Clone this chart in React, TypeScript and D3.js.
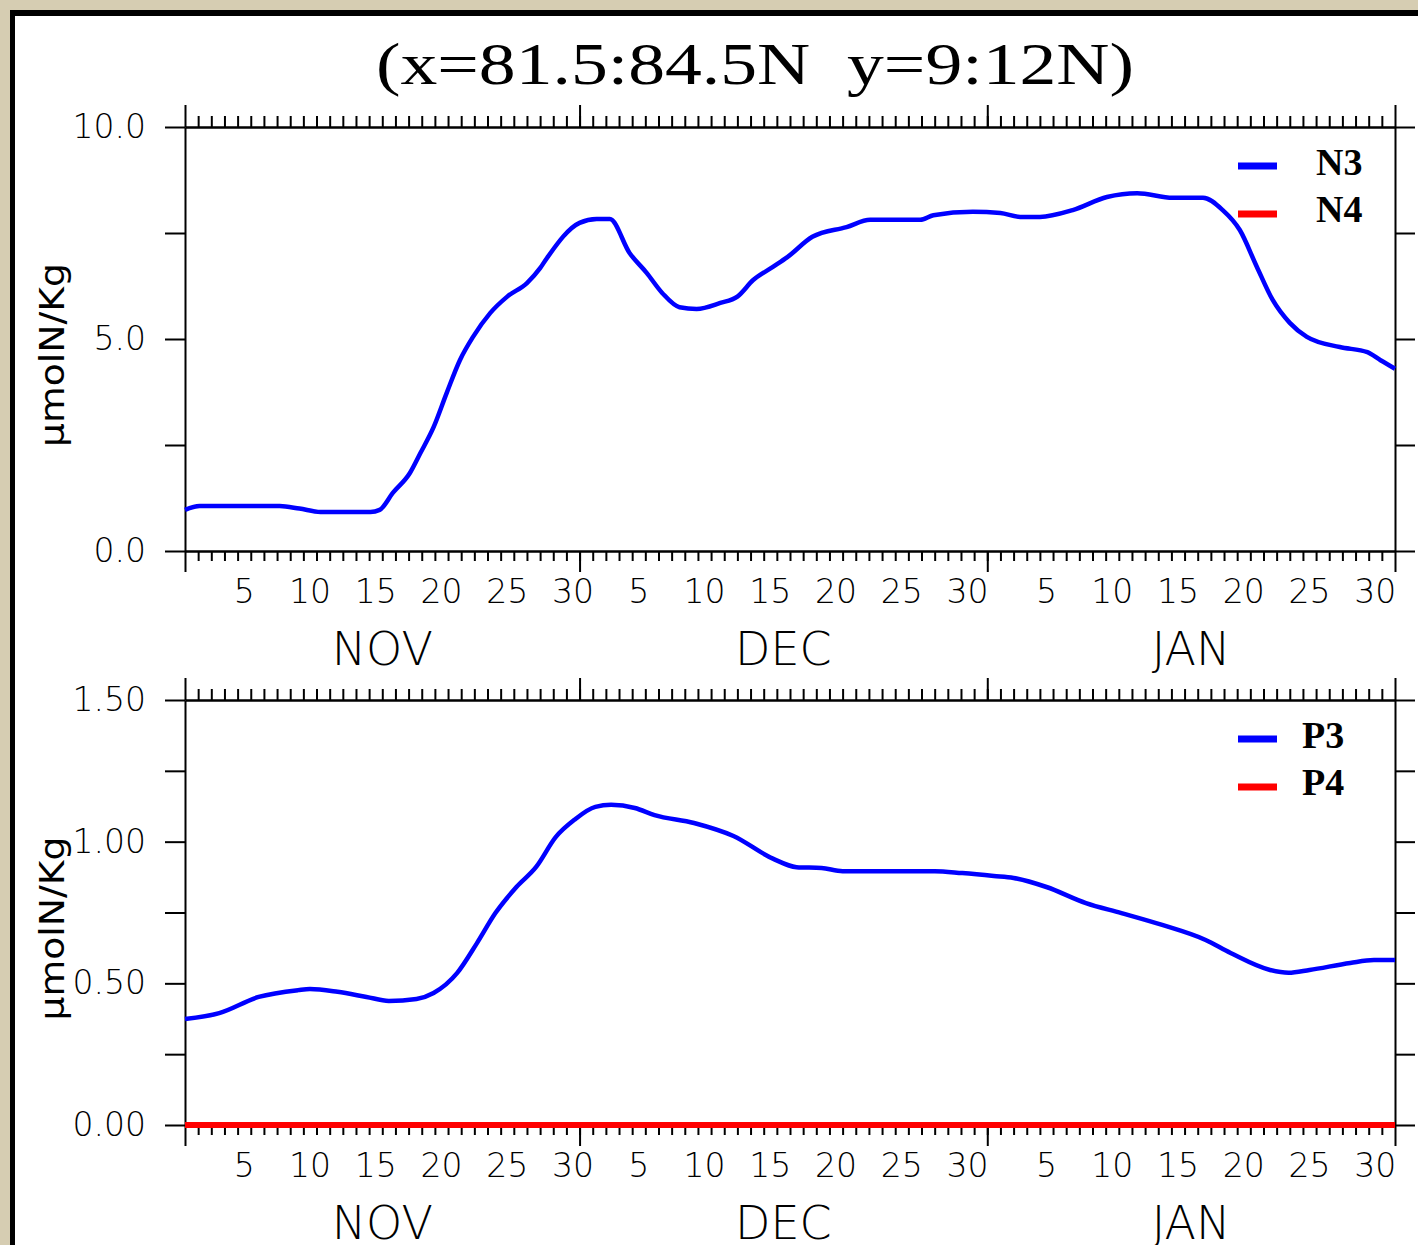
import { useRef, useEffect } from 'react'
import * as d3 from 'd3'

const title = '(x=81.5:84.5N  y=9:12N)'
const yLabel = 'μmolN/Kg'
const monthNames = ['NOV', 'DEC', 'JAN']
const dayLabels = [5, 10, 15, 20, 25, 30]

// time axis: 1 Nov -> 1 Feb, values are days after 1 Nov 00:00
const n3Days = [0, 1.1, 4.2, 7.2, 8.7, 10.3, 14.1, 14.8, 15.8, 17.1, 17.9, 18.9, 19.9, 20.9, 21.9, 23.2, 24.5, 26.0, 27.0, 27.5, 30.0, 31.3, 32.3, 33.8, 35.1, 36.3, 37.6, 38.9, 40.7, 42.0, 43.2, 44.7, 45.8, 47.7, 50.3, 52.1, 55.9, 56.9, 59.9, 62.0, 63.5, 65.0, 67.5, 70.1, 72.4, 75.1, 77.4, 78.9, 80.2, 81.5, 82.7, 84.0, 85.3, 87.8, 89.9, 90.9, 92]
const n3Values = [0.97, 1.06, 1.06, 1.06, 1.0, 0.92, 0.92, 0.97, 1.37, 1.84, 2.31, 2.92, 3.73, 4.5, 5.05, 5.61, 6.0, 6.32, 6.67, 6.9, 7.74, 7.83, 7.83, 7.03, 6.56, 6.08, 5.75, 5.71, 5.85, 6.0, 6.39, 6.7, 6.93, 7.41, 7.64, 7.81, 7.81, 7.92, 8.0, 7.97, 7.88, 7.88, 8.04, 8.35, 8.44, 8.33, 8.33, 8.04, 7.57, 6.7, 5.92, 5.38, 5.05, 4.81, 4.69, 4.5, 4.3]

const p3Days = [0, 2.6, 5.6, 8.6, 9.5, 11.6, 13.8, 15.5, 17.6, 18.9, 20.7, 22.2, 23.6, 25.2, 26.7, 28.2, 29.6, 31.2, 32.4, 34.2, 35.7, 38.7, 41.7, 44.7, 46.5, 48.4, 50.0, 57.0, 59.1, 61.5, 63.0, 65.5, 68.5, 71.2, 74.3, 77.6, 79.5, 82.5, 83.9, 85.5, 88.6, 90.4, 92]
const p3Values = [0.374, 0.395, 0.452, 0.476, 0.48, 0.47, 0.452, 0.438, 0.445, 0.466, 0.537, 0.642, 0.748, 0.84, 0.911, 1.017, 1.077, 1.123, 1.13, 1.119, 1.094, 1.066, 1.02, 0.94, 0.91, 0.907, 0.896, 0.896, 0.889, 0.879, 0.872, 0.84, 0.783, 0.748, 0.706, 0.653, 0.607, 0.547, 0.537, 0.547, 0.572, 0.582, 0.582]

const p4Days = [0, 92]
const p4Values = [0, 0]

const topTicks = [0, 2.5, 5, 7.5, 10]
const topLabels = [0, 5, 10]
const bottomTicks = [0, 0.25, 0.5, 0.75, 1, 1.25, 1.5]
const bottomLabels = [0, 0.5, 1, 1.5]

const W = 1418
const H = 1245
const sans = 'DejaVu Sans'
const serif = 'Liberation Serif'
const thin = 300

const start = Date.UTC(2000, 10, 1)
const end = Date.UTC(2001, 1, 1)
const toDate = (d: number) => new Date(start + d * 864e5)

function App() {
  const chartRef = useRef<HTMLDivElement>(null)

  function renderChart(container: HTMLDivElement | null) {
    if (container === null) return
    container.innerHTML = ''

    const svg = d3.select(container).append('svg')
      .attr('width', W)
      .attr('height', H)
      .style('display', 'block')

    // frame
    svg.append('rect').attr('width', W).attr('height', H).attr('fill', '#d6cdb2')
    svg.append('rect').attr('x', 10).attr('y', 10).attr('width', W).attr('height', H).attr('fill', '#000')
    svg.append('rect').attr('x', 15).attr('y', 16).attr('width', W).attr('height', H).attr('fill', '#fff')

    svg.append('text')
      .attr('x', 755)
      .attr('y', 84)
      .attr('text-anchor', 'middle')
      .attr('font-family', serif)
      .attr('font-size', 60)
      .attr('textLength', 758)
      .attr('lengthAdjust', 'spacingAndGlyphs')
      .style('white-space', 'pre')
      .text(title)

    const x = d3.scaleUtc().domain([new Date(start), new Date(end)]).range([185, 1395])
    const dayTicks = d3.utcDay.range(new Date(start + 864e5), new Date(end))
    const monthTicks = d3.utcMonth.range(new Date(start), new Date(end + 1))

    function panel(top: number, bottom: number, yMax: number, ticks: number[], labels: number[], fmt: string,
                   series: { days: number[], values: number[], color: string, width: number }[],
                   legend: { name: string, color: string }[], legendX: number) {
      const y = d3.scaleLinear().domain([0, yMax]).range([bottom, top])
      const f = d3.format(fmt)

      const axes = svg.append('g').attr('stroke-width', 2)

      axes.append('g').attr('transform', `translate(0,${bottom})`)
        .call(d3.axisBottom(x).tickValues(dayTicks).tickSize(10).tickSizeOuter(0).tickFormat(() => ''))
      axes.append('g').attr('transform', `translate(0,${bottom})`)
        .call(d3.axisBottom(x).tickValues(monthTicks).tickSize(21).tickSizeOuter(0).tickFormat(() => ''))
      axes.append('g').attr('transform', `translate(0,${top})`)
        .call(d3.axisTop(x).tickValues(dayTicks).tickSize(11).tickSizeOuter(0).tickFormat(() => ''))
      axes.append('g').attr('transform', `translate(0,${top})`)
        .call(d3.axisTop(x).tickValues(monthTicks).tickSize(22).tickSizeOuter(0).tickFormat(() => ''))
      axes.append('g').attr('transform', 'translate(185,0)')
        .call(d3.axisLeft(y).tickValues(ticks).tickSize(20).tickSizeOuter(0).tickPadding(19)
          .tickFormat(d => labels.includes(+d) ? f(+d) : ''))
      axes.append('g').attr('transform', 'translate(1395,0)')
        .call(d3.axisRight(y).tickValues(ticks).tickSize(20).tickSizeOuter(0).tickFormat(() => ''))

      axes.selectAll('text')
        .attr('font-family', sans)
        .attr('font-weight', thin)
        .attr('font-size', 33)
        .attr('fill', '#000')
      axes.selectAll('path.domain').attr('stroke-width', 2)

      // day numbers, centred on noon
      monthTicks.slice(0, 3).forEach(m => {
        dayLabels.forEach(dd => {
          const t = new Date(m.getTime() + (dd - 1) * 864e5 + 432e5)
          svg.append('text')
            .attr('x', x(t))
            .attr('y', bottom + 52)
            .attr('text-anchor', 'middle')
            .attr('font-family', sans)
            .attr('font-weight', thin)
            .attr('font-size', 33)
            .text(dd)
        })
      })
      monthNames.forEach((name, i) => {
        const mid = (monthTicks[i].getTime() + monthTicks[i + 1].getTime()) / 2
        svg.append('text')
          .attr('x', x(new Date(mid)))
          .attr('y', bottom + 114)
          .attr('text-anchor', 'middle')
          .attr('font-family', sans)
          .attr('font-weight', thin)
          .attr('font-size', 46)
          .text(name)
      })

      svg.append('text')
        .attr('transform', `translate(64,${(top + bottom) / 2 + 16}) rotate(-90)`)
        .attr('text-anchor', 'middle')
        .attr('font-family', sans)
        .attr('font-size', 33)
        .attr('textLength', 184)
        .attr('lengthAdjust', 'spacingAndGlyphs')
        .text(yLabel)

      series.forEach(s => {
        const pts = s.days.map((d, i) => [d, s.values[i]] as [number, number])
        svg.append('path')
          .datum(pts)
          .attr('fill', 'none')
          .attr('stroke', s.color)
          .attr('stroke-width', s.width)
          .attr('d', d3.line<[number, number]>()
            .x(d => x(toDate(d[0])))
            .y(d => y(d[1]))
            .curve(d3.curveMonotoneX))
      })

      legend.forEach((l, i) => {
        svg.append('line')
          .attr('x1', 1238).attr('x2', 1277)
          .attr('y1', top + 39 + i * 48).attr('y2', top + 39 + i * 48)
          .attr('stroke', l.color)
          .attr('stroke-width', 7)
        svg.append('text')
          .attr('x', legendX)
          .attr('y', top + 48 + i * 47)
          .attr('font-family', serif)
          .attr('font-weight', 'bold')
          .attr('font-size', 38)
          .text(l.name)
      })
    }

    panel(127, 551, 10, topTicks, topLabels, '.1f',
      [{ days: n3Days, values: n3Values, color: '#0000ff', width: 4.5 }],
      [{ name: 'N3', color: '#0000ff' }, { name: 'N4', color: '#ff0000' }], 1316)

    panel(700, 1125, 1.5, bottomTicks, bottomLabels, '.2f',
      [{ days: p3Days, values: p3Values, color: '#0000ff', width: 4.5 },
       { days: p4Days, values: p4Values, color: '#ff0000', width: 6 }],
      [{ name: 'P3', color: '#0000ff' }, { name: 'P4', color: '#ff0000' }], 1302)
  }

  useEffect(() => {
    renderChart(chartRef.current)
  })

  return (
    <div ref={chartRef} style={{ position: 'absolute', left: 0, top: 0 }}>
    </div>
  )
}

export default App
